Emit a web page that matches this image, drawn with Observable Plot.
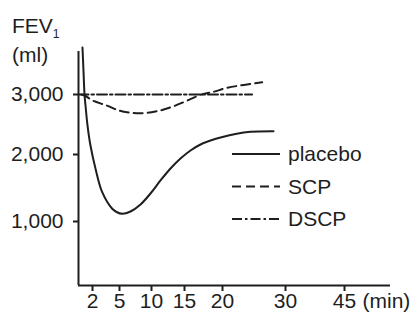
<!DOCTYPE html>
<html>
<head>
<meta charset="utf-8">
<script src="https://cdn.jsdelivr.net/npm/d3@7"></script>
<script src="https://cdn.jsdelivr.net/npm/@observablehq/plot@0.6"></script>
<style>
  html, body { margin: 0; padding: 0; background: #fff; }
  #chart { position: relative; width: 416px; height: 321px; }
</style>
</head>
<body>
<div id="chart"></div>
<script>
// ---- data (minutes, FEV1 in ml) ----
const seriesNames = ["placebo", "SCP", "DSCP"];

const placeboMin = [0.57, 0.71, 0.86, 1.0, 1.29, 1.71, 2.33, 3.08, 4.19, 4.67, 5.42, 6.72, 8.28, 9.84, 11.36, 12.88, 14.39, 15.79, 17.1, 18.42, 20, 22.06, 24.44, 28.1];
const placeboFev = [3783, 3400, 3000, 2817, 2483, 2150, 1791, 1437, 1190, 1142, 1115, 1149, 1254, 1418, 1612, 1791, 1940, 2067, 2167, 2233, 2292, 2342, 2378, 2387];

const scpMin = [0.4, 1.0, 2, 3.6, 4.9, 6.5, 8.3, 10, 11.4, 13, 14.5, 16, 17.1, 18.8, 20.7, 23.4, 26.3];
const scpFev = [3000, 2975, 2900, 2815, 2735, 2700, 2688, 2705, 2735, 2790, 2855, 2935, 2995, 3045, 3110, 3160, 3205];

const dscpMin = [0, 24.7];
const dscpFev = [3000, 3000];

const minuteTicks = [2, 5, 10, 15, 20, 30, 45];
const fevTicks = [1000, 2000, 3000];
const xUnit = "(min)";

// ---- layout / style ----
const W = 416, H = 321;
const ink = "#1e1e1e";
const dashes = {placebo: null, SCP: "9,5", DSCP: "10,3,2.5,3"};
const fmt = d3.format(",");

const toRows = (name, xs, ys) => xs.map((m, i) => ({series: name, min: m, fev: ys[i]}));
const rows = [
  ...toRows("placebo", placeboMin, placeboFev),
  ...toRows("SCP", scpMin, scpFev),
  ...toRows("DSCP", dscpMin, dscpFev)
];

// the printed axes are not uniform: piecewise scales matched to the tick spacing
const xDomain = [0, ...minuteTicks];
const xRange = [78, 92, 119, 151, 184, 222, 285, 344];
const yDomain = [0, ...fevTicks];
const yRange = [285, 221, 154, 94];

const lineMarks = seriesNames.map(name => Plot.line(rows.filter(r => r.series === name), {
  x: "min", y: "fev",
  stroke: ink, strokeWidth: 2,
  strokeDasharray: dashes[name],
  curve: name === "DSCP" ? "linear" : "catmull-rom"
}));

const plot = Plot.plot({
  width: W, height: H,
  marginLeft: 78, marginRight: 26, marginTop: 51, marginBottom: 36,
  style: {fontFamily: "'Liberation Sans', Arial, sans-serif", fontSize: "21px", color: ink, background: "#fff"},
  x: {type: "linear", domain: xDomain, range: xRange, clamp: false},
  y: {type: "linear", domain: yDomain, range: yRange, clamp: false},
  marks: [
    Plot.ruleX([0], {stroke: ink, strokeWidth: 2}),
    Plot.ruleY([0], {stroke: ink, strokeWidth: 2}),
    Plot.axisX(minuteTicks, {anchor: "bottom", tickSize: 6, tickPadding: 2, strokeWidth: 2, label: null, fill: ink}),
    Plot.axisY(fevTicks, {anchor: "left", tickSize: 5, tickPadding: 10, strokeWidth: 2, tickFormat: d => fmt(d), label: null, fill: ink}),
    Plot.text([xUnit], {x: () => minuteTicks[minuteTicks.length - 1], frameAnchor: "bottom", dx: 18, dy: 8, textAnchor: "start", lineAnchor: "top", fill: ink}),
    ...lineMarks
  ]
});

const svg = d3.select(plot);
svg.style("overflow", "visible");

// y-axis title: FEV1 (ml)
const title = svg.append("g").attr("fill", ink).attr("text-anchor", "start").style("font-size", "21px");
const t1 = title.append("text").attr("x", 12).attr("y", 33);
t1.append("tspan").text("FEV");
t1.append("tspan").attr("dy", 5).style("font-size", "12px").text("1");
title.append("text").attr("x", 12).attr("y", 62).text("(ml)");

// legend
const leg = svg.append("g").attr("text-anchor", "start");
seriesNames.forEach((name, i) => {
  const y = 154 + i * 32.5;
  leg.append("line")
    .attr("x1", 232).attr("x2", 280).attr("y1", y).attr("y2", y)
    .attr("stroke", ink).attr("stroke-width", 2)
    .attr("stroke-dasharray", dashes[name]);
  leg.append("text")
    .attr("x", 288).attr("y", y).attr("dy", "0.35em")
    .attr("fill", ink).style("font-size", "21px")
    .text(name);
});

document.getElementById("chart").appendChild(plot);
</script>
</body>
</html>
